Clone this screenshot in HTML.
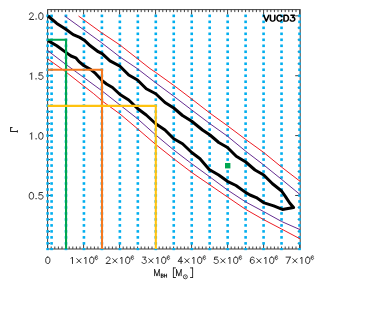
<!DOCTYPE html>
<html><head><meta charset="utf-8"><title>VUCD3</title>
<style>
html,body{margin:0;padding:0;background:#fff;}
body{width:380px;height:319px;position:relative;overflow:hidden;font-family:"Liberation Sans",sans-serif;}
svg{position:absolute;left:0;top:0;display:block;}
</style></head><body>
<svg width="380" height="319" viewBox="0 0 380 319"><rect x="47.60" y="9.60" width="252.60" height="239.40" fill="none" stroke="#404040" stroke-width="1"/><path d="M47.60 9.60v5M47.60 249.00v-5M51.20 9.60v2.5M51.20 249.00v-2.5M54.80 9.60v2.5M54.80 249.00v-2.5M58.40 9.60v2.5M58.40 249.00v-2.5M62.00 9.60v2.5M62.00 249.00v-2.5M65.60 9.60v2.5M65.60 249.00v-2.5M69.20 9.60v2.5M69.20 249.00v-2.5M72.80 9.60v2.5M72.80 249.00v-2.5M76.40 9.60v2.5M76.40 249.00v-2.5M80.00 9.60v2.5M80.00 249.00v-2.5M83.60 9.60v5M83.60 249.00v-5M87.20 9.60v2.5M87.20 249.00v-2.5M90.80 9.60v2.5M90.80 249.00v-2.5M94.40 9.60v2.5M94.40 249.00v-2.5M98.00 9.60v2.5M98.00 249.00v-2.5M101.60 9.60v2.5M101.60 249.00v-2.5M105.20 9.60v2.5M105.20 249.00v-2.5M108.80 9.60v2.5M108.80 249.00v-2.5M112.40 9.60v2.5M112.40 249.00v-2.5M116.00 9.60v2.5M116.00 249.00v-2.5M119.60 9.60v5M119.60 249.00v-5M123.20 9.60v2.5M123.20 249.00v-2.5M126.80 9.60v2.5M126.80 249.00v-2.5M130.40 9.60v2.5M130.40 249.00v-2.5M134.00 9.60v2.5M134.00 249.00v-2.5M137.60 9.60v2.5M137.60 249.00v-2.5M141.20 9.60v2.5M141.20 249.00v-2.5M144.80 9.60v2.5M144.80 249.00v-2.5M148.40 9.60v2.5M148.40 249.00v-2.5M152.00 9.60v2.5M152.00 249.00v-2.5M155.60 9.60v5M155.60 249.00v-5M159.20 9.60v2.5M159.20 249.00v-2.5M162.80 9.60v2.5M162.80 249.00v-2.5M166.40 9.60v2.5M166.40 249.00v-2.5M170.00 9.60v2.5M170.00 249.00v-2.5M173.60 9.60v2.5M173.60 249.00v-2.5M177.20 9.60v2.5M177.20 249.00v-2.5M180.80 9.60v2.5M180.80 249.00v-2.5M184.40 9.60v2.5M184.40 249.00v-2.5M188.00 9.60v2.5M188.00 249.00v-2.5M191.60 9.60v5M191.60 249.00v-5M195.20 9.60v2.5M195.20 249.00v-2.5M198.80 9.60v2.5M198.80 249.00v-2.5M202.40 9.60v2.5M202.40 249.00v-2.5M206.00 9.60v2.5M206.00 249.00v-2.5M209.60 9.60v2.5M209.60 249.00v-2.5M213.20 9.60v2.5M213.20 249.00v-2.5M216.80 9.60v2.5M216.80 249.00v-2.5M220.40 9.60v2.5M220.40 249.00v-2.5M224.00 9.60v2.5M224.00 249.00v-2.5M227.60 9.60v5M227.60 249.00v-5M231.20 9.60v2.5M231.20 249.00v-2.5M234.80 9.60v2.5M234.80 249.00v-2.5M238.40 9.60v2.5M238.40 249.00v-2.5M242.00 9.60v2.5M242.00 249.00v-2.5M245.60 9.60v2.5M245.60 249.00v-2.5M249.20 9.60v2.5M249.20 249.00v-2.5M252.80 9.60v2.5M252.80 249.00v-2.5M256.40 9.60v2.5M256.40 249.00v-2.5M260.00 9.60v2.5M260.00 249.00v-2.5M263.60 9.60v5M263.60 249.00v-5M267.20 9.60v2.5M267.20 249.00v-2.5M270.80 9.60v2.5M270.80 249.00v-2.5M274.40 9.60v2.5M274.40 249.00v-2.5M278.00 9.60v2.5M278.00 249.00v-2.5M281.60 9.60v2.5M281.60 249.00v-2.5M285.20 9.60v2.5M285.20 249.00v-2.5M288.80 9.60v2.5M288.80 249.00v-2.5M292.40 9.60v2.5M292.40 249.00v-2.5M296.00 9.60v2.5M296.00 249.00v-2.5M299.60 9.60v5M299.60 249.00v-5M47.60 243.37h2.5M300.20 243.37h-2.5M47.60 231.40h2.5M300.20 231.40h-2.5M47.60 219.42h2.5M300.20 219.42h-2.5M47.60 207.45h2.5M300.20 207.45h-2.5M47.60 195.47h5M300.20 195.47h-5M47.60 183.50h2.5M300.20 183.50h-2.5M47.60 171.53h2.5M300.20 171.53h-2.5M47.60 159.55h2.5M300.20 159.55h-2.5M47.60 147.58h2.5M300.20 147.58h-2.5M47.60 135.60h5M300.20 135.60h-5M47.60 123.62h2.5M300.20 123.62h-2.5M47.60 111.65h2.5M300.20 111.65h-2.5M47.60 99.67h2.5M300.20 99.67h-2.5M47.60 87.70h2.5M300.20 87.70h-2.5M47.60 75.72h5M300.20 75.72h-5M47.60 63.75h2.5M300.20 63.75h-2.5M47.60 51.78h2.5M300.20 51.78h-2.5M47.60 39.80h2.5M300.20 39.80h-2.5M47.60 27.83h2.5M300.20 27.83h-2.5M47.60 15.85h5M300.20 15.85h-5" stroke="#404040" stroke-width="1" fill="none"/><defs><clipPath id="dc"><rect x="45" y="9" width="256" height="241.3"/></clipPath></defs><g fill="#00AEEF" clip-path="url(#dc)"><rect x="46.30" y="248.06" width="2.6" height="2.6"/><rect x="46.30" y="242.07" width="2.6" height="2.6"/><rect x="46.30" y="236.09" width="2.6" height="2.6"/><rect x="46.30" y="230.10" width="2.6" height="2.6"/><rect x="46.30" y="224.11" width="2.6" height="2.6"/><rect x="46.30" y="218.12" width="2.6" height="2.6"/><rect x="46.30" y="212.14" width="2.6" height="2.6"/><rect x="46.30" y="206.15" width="2.6" height="2.6"/><rect x="46.30" y="200.16" width="2.6" height="2.6"/><rect x="46.30" y="194.17" width="2.6" height="2.6"/><rect x="46.30" y="188.19" width="2.6" height="2.6"/><rect x="46.30" y="182.20" width="2.6" height="2.6"/><rect x="46.30" y="176.21" width="2.6" height="2.6"/><rect x="46.30" y="170.22" width="2.6" height="2.6"/><rect x="46.30" y="164.24" width="2.6" height="2.6"/><rect x="46.30" y="158.25" width="2.6" height="2.6"/><rect x="46.30" y="152.26" width="2.6" height="2.6"/><rect x="46.30" y="146.28" width="2.6" height="2.6"/><rect x="46.30" y="140.29" width="2.6" height="2.6"/><rect x="46.30" y="134.30" width="2.6" height="2.6"/><rect x="46.30" y="128.31" width="2.6" height="2.6"/><rect x="46.30" y="122.32" width="2.6" height="2.6"/><rect x="46.30" y="116.34" width="2.6" height="2.6"/><rect x="46.30" y="110.35" width="2.6" height="2.6"/><rect x="46.30" y="104.36" width="2.6" height="2.6"/><rect x="46.30" y="98.37" width="2.6" height="2.6"/><rect x="46.30" y="92.39" width="2.6" height="2.6"/><rect x="46.30" y="86.40" width="2.6" height="2.6"/><rect x="46.30" y="80.41" width="2.6" height="2.6"/><rect x="46.30" y="74.42" width="2.6" height="2.6"/><rect x="46.30" y="68.44" width="2.6" height="2.6"/><rect x="46.30" y="62.45" width="2.6" height="2.6"/><rect x="46.30" y="56.46" width="2.6" height="2.6"/><rect x="46.30" y="50.47" width="2.6" height="2.6"/><rect x="46.30" y="44.49" width="2.6" height="2.6"/><rect x="46.30" y="38.50" width="2.6" height="2.6"/><rect x="46.30" y="32.51" width="2.6" height="2.6"/><rect x="46.30" y="26.52" width="2.6" height="2.6"/><rect x="46.30" y="20.54" width="2.6" height="2.6"/><rect x="46.30" y="14.55" width="2.6" height="2.6"/><rect x="50.30" y="248.06" width="2.6" height="2.6"/><rect x="50.30" y="242.07" width="2.6" height="2.6"/><rect x="50.30" y="236.09" width="2.6" height="2.6"/><rect x="50.30" y="230.10" width="2.6" height="2.6"/><rect x="50.30" y="224.11" width="2.6" height="2.6"/><rect x="50.30" y="218.12" width="2.6" height="2.6"/><rect x="50.30" y="212.14" width="2.6" height="2.6"/><rect x="50.30" y="206.15" width="2.6" height="2.6"/><rect x="50.30" y="200.16" width="2.6" height="2.6"/><rect x="50.30" y="194.17" width="2.6" height="2.6"/><rect x="50.30" y="188.19" width="2.6" height="2.6"/><rect x="50.30" y="182.20" width="2.6" height="2.6"/><rect x="50.30" y="176.21" width="2.6" height="2.6"/><rect x="50.30" y="170.22" width="2.6" height="2.6"/><rect x="50.30" y="164.24" width="2.6" height="2.6"/><rect x="50.30" y="158.25" width="2.6" height="2.6"/><rect x="50.30" y="152.26" width="2.6" height="2.6"/><rect x="50.30" y="146.28" width="2.6" height="2.6"/><rect x="50.30" y="140.29" width="2.6" height="2.6"/><rect x="50.30" y="134.30" width="2.6" height="2.6"/><rect x="50.30" y="128.31" width="2.6" height="2.6"/><rect x="50.30" y="122.32" width="2.6" height="2.6"/><rect x="50.30" y="116.34" width="2.6" height="2.6"/><rect x="50.30" y="110.35" width="2.6" height="2.6"/><rect x="50.30" y="104.36" width="2.6" height="2.6"/><rect x="50.30" y="98.37" width="2.6" height="2.6"/><rect x="50.30" y="92.39" width="2.6" height="2.6"/><rect x="50.30" y="86.40" width="2.6" height="2.6"/><rect x="50.30" y="80.41" width="2.6" height="2.6"/><rect x="50.30" y="74.42" width="2.6" height="2.6"/><rect x="50.30" y="68.44" width="2.6" height="2.6"/><rect x="50.30" y="62.45" width="2.6" height="2.6"/><rect x="50.30" y="56.46" width="2.6" height="2.6"/><rect x="50.30" y="50.47" width="2.6" height="2.6"/><rect x="50.30" y="44.49" width="2.6" height="2.6"/><rect x="50.30" y="38.50" width="2.6" height="2.6"/><rect x="50.30" y="32.51" width="2.6" height="2.6"/><rect x="50.30" y="26.52" width="2.6" height="2.6"/><rect x="50.30" y="20.54" width="2.6" height="2.6"/><rect x="50.30" y="14.55" width="2.6" height="2.6"/><rect x="64.67" y="248.06" width="2.6" height="2.6"/><rect x="64.67" y="242.07" width="2.6" height="2.6"/><rect x="64.67" y="236.09" width="2.6" height="2.6"/><rect x="64.67" y="230.10" width="2.6" height="2.6"/><rect x="64.67" y="224.11" width="2.6" height="2.6"/><rect x="64.67" y="218.12" width="2.6" height="2.6"/><rect x="64.67" y="212.14" width="2.6" height="2.6"/><rect x="64.67" y="206.15" width="2.6" height="2.6"/><rect x="64.67" y="200.16" width="2.6" height="2.6"/><rect x="64.67" y="194.17" width="2.6" height="2.6"/><rect x="64.67" y="188.19" width="2.6" height="2.6"/><rect x="64.67" y="182.20" width="2.6" height="2.6"/><rect x="64.67" y="176.21" width="2.6" height="2.6"/><rect x="64.67" y="170.22" width="2.6" height="2.6"/><rect x="64.67" y="164.24" width="2.6" height="2.6"/><rect x="64.67" y="158.25" width="2.6" height="2.6"/><rect x="64.67" y="152.26" width="2.6" height="2.6"/><rect x="64.67" y="146.28" width="2.6" height="2.6"/><rect x="64.67" y="140.29" width="2.6" height="2.6"/><rect x="64.67" y="134.30" width="2.6" height="2.6"/><rect x="64.67" y="128.31" width="2.6" height="2.6"/><rect x="64.67" y="122.32" width="2.6" height="2.6"/><rect x="64.67" y="116.34" width="2.6" height="2.6"/><rect x="64.67" y="110.35" width="2.6" height="2.6"/><rect x="64.67" y="104.36" width="2.6" height="2.6"/><rect x="64.67" y="98.37" width="2.6" height="2.6"/><rect x="64.67" y="92.39" width="2.6" height="2.6"/><rect x="64.67" y="86.40" width="2.6" height="2.6"/><rect x="64.67" y="80.41" width="2.6" height="2.6"/><rect x="64.67" y="74.42" width="2.6" height="2.6"/><rect x="64.67" y="68.44" width="2.6" height="2.6"/><rect x="64.67" y="62.45" width="2.6" height="2.6"/><rect x="64.67" y="56.46" width="2.6" height="2.6"/><rect x="64.67" y="50.47" width="2.6" height="2.6"/><rect x="64.67" y="44.49" width="2.6" height="2.6"/><rect x="64.67" y="38.50" width="2.6" height="2.6"/><rect x="64.67" y="32.51" width="2.6" height="2.6"/><rect x="64.67" y="26.52" width="2.6" height="2.6"/><rect x="64.67" y="20.54" width="2.6" height="2.6"/><rect x="64.67" y="14.55" width="2.6" height="2.6"/><rect x="82.63" y="248.06" width="2.6" height="2.6"/><rect x="82.63" y="242.07" width="2.6" height="2.6"/><rect x="82.63" y="236.09" width="2.6" height="2.6"/><rect x="82.63" y="230.10" width="2.6" height="2.6"/><rect x="82.63" y="224.11" width="2.6" height="2.6"/><rect x="82.63" y="218.12" width="2.6" height="2.6"/><rect x="82.63" y="212.14" width="2.6" height="2.6"/><rect x="82.63" y="206.15" width="2.6" height="2.6"/><rect x="82.63" y="200.16" width="2.6" height="2.6"/><rect x="82.63" y="194.17" width="2.6" height="2.6"/><rect x="82.63" y="188.19" width="2.6" height="2.6"/><rect x="82.63" y="182.20" width="2.6" height="2.6"/><rect x="82.63" y="176.21" width="2.6" height="2.6"/><rect x="82.63" y="170.22" width="2.6" height="2.6"/><rect x="82.63" y="164.24" width="2.6" height="2.6"/><rect x="82.63" y="158.25" width="2.6" height="2.6"/><rect x="82.63" y="152.26" width="2.6" height="2.6"/><rect x="82.63" y="146.28" width="2.6" height="2.6"/><rect x="82.63" y="140.29" width="2.6" height="2.6"/><rect x="82.63" y="134.30" width="2.6" height="2.6"/><rect x="82.63" y="128.31" width="2.6" height="2.6"/><rect x="82.63" y="122.32" width="2.6" height="2.6"/><rect x="82.63" y="116.34" width="2.6" height="2.6"/><rect x="82.63" y="110.35" width="2.6" height="2.6"/><rect x="82.63" y="104.36" width="2.6" height="2.6"/><rect x="82.63" y="98.37" width="2.6" height="2.6"/><rect x="82.63" y="92.39" width="2.6" height="2.6"/><rect x="82.63" y="86.40" width="2.6" height="2.6"/><rect x="82.63" y="80.41" width="2.6" height="2.6"/><rect x="82.63" y="74.42" width="2.6" height="2.6"/><rect x="82.63" y="68.44" width="2.6" height="2.6"/><rect x="82.63" y="62.45" width="2.6" height="2.6"/><rect x="82.63" y="56.46" width="2.6" height="2.6"/><rect x="82.63" y="50.47" width="2.6" height="2.6"/><rect x="82.63" y="44.49" width="2.6" height="2.6"/><rect x="82.63" y="38.50" width="2.6" height="2.6"/><rect x="82.63" y="32.51" width="2.6" height="2.6"/><rect x="82.63" y="26.52" width="2.6" height="2.6"/><rect x="82.63" y="20.54" width="2.6" height="2.6"/><rect x="82.63" y="14.55" width="2.6" height="2.6"/><rect x="100.59" y="248.06" width="2.6" height="2.6"/><rect x="100.59" y="242.07" width="2.6" height="2.6"/><rect x="100.59" y="236.09" width="2.6" height="2.6"/><rect x="100.59" y="230.10" width="2.6" height="2.6"/><rect x="100.59" y="224.11" width="2.6" height="2.6"/><rect x="100.59" y="218.12" width="2.6" height="2.6"/><rect x="100.59" y="212.14" width="2.6" height="2.6"/><rect x="100.59" y="206.15" width="2.6" height="2.6"/><rect x="100.59" y="200.16" width="2.6" height="2.6"/><rect x="100.59" y="194.17" width="2.6" height="2.6"/><rect x="100.59" y="188.19" width="2.6" height="2.6"/><rect x="100.59" y="182.20" width="2.6" height="2.6"/><rect x="100.59" y="176.21" width="2.6" height="2.6"/><rect x="100.59" y="170.22" width="2.6" height="2.6"/><rect x="100.59" y="164.24" width="2.6" height="2.6"/><rect x="100.59" y="158.25" width="2.6" height="2.6"/><rect x="100.59" y="152.26" width="2.6" height="2.6"/><rect x="100.59" y="146.28" width="2.6" height="2.6"/><rect x="100.59" y="140.29" width="2.6" height="2.6"/><rect x="100.59" y="134.30" width="2.6" height="2.6"/><rect x="100.59" y="128.31" width="2.6" height="2.6"/><rect x="100.59" y="122.32" width="2.6" height="2.6"/><rect x="100.59" y="116.34" width="2.6" height="2.6"/><rect x="100.59" y="110.35" width="2.6" height="2.6"/><rect x="100.59" y="104.36" width="2.6" height="2.6"/><rect x="100.59" y="98.37" width="2.6" height="2.6"/><rect x="100.59" y="92.39" width="2.6" height="2.6"/><rect x="100.59" y="86.40" width="2.6" height="2.6"/><rect x="100.59" y="80.41" width="2.6" height="2.6"/><rect x="100.59" y="74.42" width="2.6" height="2.6"/><rect x="100.59" y="68.44" width="2.6" height="2.6"/><rect x="100.59" y="62.45" width="2.6" height="2.6"/><rect x="100.59" y="56.46" width="2.6" height="2.6"/><rect x="100.59" y="50.47" width="2.6" height="2.6"/><rect x="100.59" y="44.49" width="2.6" height="2.6"/><rect x="100.59" y="38.50" width="2.6" height="2.6"/><rect x="100.59" y="32.51" width="2.6" height="2.6"/><rect x="100.59" y="26.52" width="2.6" height="2.6"/><rect x="100.59" y="20.54" width="2.6" height="2.6"/><rect x="100.59" y="14.55" width="2.6" height="2.6"/><rect x="118.56" y="248.06" width="2.6" height="2.6"/><rect x="118.56" y="242.07" width="2.6" height="2.6"/><rect x="118.56" y="236.09" width="2.6" height="2.6"/><rect x="118.56" y="230.10" width="2.6" height="2.6"/><rect x="118.56" y="224.11" width="2.6" height="2.6"/><rect x="118.56" y="218.12" width="2.6" height="2.6"/><rect x="118.56" y="212.14" width="2.6" height="2.6"/><rect x="118.56" y="206.15" width="2.6" height="2.6"/><rect x="118.56" y="200.16" width="2.6" height="2.6"/><rect x="118.56" y="194.17" width="2.6" height="2.6"/><rect x="118.56" y="188.19" width="2.6" height="2.6"/><rect x="118.56" y="182.20" width="2.6" height="2.6"/><rect x="118.56" y="176.21" width="2.6" height="2.6"/><rect x="118.56" y="170.22" width="2.6" height="2.6"/><rect x="118.56" y="164.24" width="2.6" height="2.6"/><rect x="118.56" y="158.25" width="2.6" height="2.6"/><rect x="118.56" y="152.26" width="2.6" height="2.6"/><rect x="118.56" y="146.28" width="2.6" height="2.6"/><rect x="118.56" y="140.29" width="2.6" height="2.6"/><rect x="118.56" y="134.30" width="2.6" height="2.6"/><rect x="118.56" y="128.31" width="2.6" height="2.6"/><rect x="118.56" y="122.32" width="2.6" height="2.6"/><rect x="118.56" y="116.34" width="2.6" height="2.6"/><rect x="118.56" y="110.35" width="2.6" height="2.6"/><rect x="118.56" y="104.36" width="2.6" height="2.6"/><rect x="118.56" y="98.37" width="2.6" height="2.6"/><rect x="118.56" y="92.39" width="2.6" height="2.6"/><rect x="118.56" y="86.40" width="2.6" height="2.6"/><rect x="118.56" y="80.41" width="2.6" height="2.6"/><rect x="118.56" y="74.42" width="2.6" height="2.6"/><rect x="118.56" y="68.44" width="2.6" height="2.6"/><rect x="118.56" y="62.45" width="2.6" height="2.6"/><rect x="118.56" y="56.46" width="2.6" height="2.6"/><rect x="118.56" y="50.47" width="2.6" height="2.6"/><rect x="118.56" y="44.49" width="2.6" height="2.6"/><rect x="118.56" y="38.50" width="2.6" height="2.6"/><rect x="118.56" y="32.51" width="2.6" height="2.6"/><rect x="118.56" y="26.52" width="2.6" height="2.6"/><rect x="118.56" y="20.54" width="2.6" height="2.6"/><rect x="118.56" y="14.55" width="2.6" height="2.6"/><rect x="136.52" y="248.06" width="2.6" height="2.6"/><rect x="136.52" y="242.07" width="2.6" height="2.6"/><rect x="136.52" y="236.09" width="2.6" height="2.6"/><rect x="136.52" y="230.10" width="2.6" height="2.6"/><rect x="136.52" y="224.11" width="2.6" height="2.6"/><rect x="136.52" y="218.12" width="2.6" height="2.6"/><rect x="136.52" y="212.14" width="2.6" height="2.6"/><rect x="136.52" y="206.15" width="2.6" height="2.6"/><rect x="136.52" y="200.16" width="2.6" height="2.6"/><rect x="136.52" y="194.17" width="2.6" height="2.6"/><rect x="136.52" y="188.19" width="2.6" height="2.6"/><rect x="136.52" y="182.20" width="2.6" height="2.6"/><rect x="136.52" y="176.21" width="2.6" height="2.6"/><rect x="136.52" y="170.22" width="2.6" height="2.6"/><rect x="136.52" y="164.24" width="2.6" height="2.6"/><rect x="136.52" y="158.25" width="2.6" height="2.6"/><rect x="136.52" y="152.26" width="2.6" height="2.6"/><rect x="136.52" y="146.28" width="2.6" height="2.6"/><rect x="136.52" y="140.29" width="2.6" height="2.6"/><rect x="136.52" y="134.30" width="2.6" height="2.6"/><rect x="136.52" y="128.31" width="2.6" height="2.6"/><rect x="136.52" y="122.32" width="2.6" height="2.6"/><rect x="136.52" y="116.34" width="2.6" height="2.6"/><rect x="136.52" y="110.35" width="2.6" height="2.6"/><rect x="136.52" y="104.36" width="2.6" height="2.6"/><rect x="136.52" y="98.37" width="2.6" height="2.6"/><rect x="136.52" y="92.39" width="2.6" height="2.6"/><rect x="136.52" y="86.40" width="2.6" height="2.6"/><rect x="136.52" y="80.41" width="2.6" height="2.6"/><rect x="136.52" y="74.42" width="2.6" height="2.6"/><rect x="136.52" y="68.44" width="2.6" height="2.6"/><rect x="136.52" y="62.45" width="2.6" height="2.6"/><rect x="136.52" y="56.46" width="2.6" height="2.6"/><rect x="136.52" y="50.47" width="2.6" height="2.6"/><rect x="136.52" y="44.49" width="2.6" height="2.6"/><rect x="136.52" y="38.50" width="2.6" height="2.6"/><rect x="136.52" y="32.51" width="2.6" height="2.6"/><rect x="136.52" y="26.52" width="2.6" height="2.6"/><rect x="136.52" y="20.54" width="2.6" height="2.6"/><rect x="136.52" y="14.55" width="2.6" height="2.6"/><rect x="154.49" y="248.06" width="2.6" height="2.6"/><rect x="154.49" y="242.07" width="2.6" height="2.6"/><rect x="154.49" y="236.09" width="2.6" height="2.6"/><rect x="154.49" y="230.10" width="2.6" height="2.6"/><rect x="154.49" y="224.11" width="2.6" height="2.6"/><rect x="154.49" y="218.12" width="2.6" height="2.6"/><rect x="154.49" y="212.14" width="2.6" height="2.6"/><rect x="154.49" y="206.15" width="2.6" height="2.6"/><rect x="154.49" y="200.16" width="2.6" height="2.6"/><rect x="154.49" y="194.17" width="2.6" height="2.6"/><rect x="154.49" y="188.19" width="2.6" height="2.6"/><rect x="154.49" y="182.20" width="2.6" height="2.6"/><rect x="154.49" y="176.21" width="2.6" height="2.6"/><rect x="154.49" y="170.22" width="2.6" height="2.6"/><rect x="154.49" y="164.24" width="2.6" height="2.6"/><rect x="154.49" y="158.25" width="2.6" height="2.6"/><rect x="154.49" y="152.26" width="2.6" height="2.6"/><rect x="154.49" y="146.28" width="2.6" height="2.6"/><rect x="154.49" y="140.29" width="2.6" height="2.6"/><rect x="154.49" y="134.30" width="2.6" height="2.6"/><rect x="154.49" y="128.31" width="2.6" height="2.6"/><rect x="154.49" y="122.32" width="2.6" height="2.6"/><rect x="154.49" y="116.34" width="2.6" height="2.6"/><rect x="154.49" y="110.35" width="2.6" height="2.6"/><rect x="154.49" y="104.36" width="2.6" height="2.6"/><rect x="154.49" y="98.37" width="2.6" height="2.6"/><rect x="154.49" y="92.39" width="2.6" height="2.6"/><rect x="154.49" y="86.40" width="2.6" height="2.6"/><rect x="154.49" y="80.41" width="2.6" height="2.6"/><rect x="154.49" y="74.42" width="2.6" height="2.6"/><rect x="154.49" y="68.44" width="2.6" height="2.6"/><rect x="154.49" y="62.45" width="2.6" height="2.6"/><rect x="154.49" y="56.46" width="2.6" height="2.6"/><rect x="154.49" y="50.47" width="2.6" height="2.6"/><rect x="154.49" y="44.49" width="2.6" height="2.6"/><rect x="154.49" y="38.50" width="2.6" height="2.6"/><rect x="154.49" y="32.51" width="2.6" height="2.6"/><rect x="154.49" y="26.52" width="2.6" height="2.6"/><rect x="154.49" y="20.54" width="2.6" height="2.6"/><rect x="154.49" y="14.55" width="2.6" height="2.6"/><rect x="172.45" y="248.06" width="2.6" height="2.6"/><rect x="172.45" y="242.07" width="2.6" height="2.6"/><rect x="172.45" y="236.09" width="2.6" height="2.6"/><rect x="172.45" y="230.10" width="2.6" height="2.6"/><rect x="172.45" y="224.11" width="2.6" height="2.6"/><rect x="172.45" y="218.12" width="2.6" height="2.6"/><rect x="172.45" y="212.14" width="2.6" height="2.6"/><rect x="172.45" y="206.15" width="2.6" height="2.6"/><rect x="172.45" y="200.16" width="2.6" height="2.6"/><rect x="172.45" y="194.17" width="2.6" height="2.6"/><rect x="172.45" y="188.19" width="2.6" height="2.6"/><rect x="172.45" y="182.20" width="2.6" height="2.6"/><rect x="172.45" y="176.21" width="2.6" height="2.6"/><rect x="172.45" y="170.22" width="2.6" height="2.6"/><rect x="172.45" y="164.24" width="2.6" height="2.6"/><rect x="172.45" y="158.25" width="2.6" height="2.6"/><rect x="172.45" y="152.26" width="2.6" height="2.6"/><rect x="172.45" y="146.28" width="2.6" height="2.6"/><rect x="172.45" y="140.29" width="2.6" height="2.6"/><rect x="172.45" y="134.30" width="2.6" height="2.6"/><rect x="172.45" y="128.31" width="2.6" height="2.6"/><rect x="172.45" y="122.32" width="2.6" height="2.6"/><rect x="172.45" y="116.34" width="2.6" height="2.6"/><rect x="172.45" y="110.35" width="2.6" height="2.6"/><rect x="172.45" y="104.36" width="2.6" height="2.6"/><rect x="172.45" y="98.37" width="2.6" height="2.6"/><rect x="172.45" y="92.39" width="2.6" height="2.6"/><rect x="172.45" y="86.40" width="2.6" height="2.6"/><rect x="172.45" y="80.41" width="2.6" height="2.6"/><rect x="172.45" y="74.42" width="2.6" height="2.6"/><rect x="172.45" y="68.44" width="2.6" height="2.6"/><rect x="172.45" y="62.45" width="2.6" height="2.6"/><rect x="172.45" y="56.46" width="2.6" height="2.6"/><rect x="172.45" y="50.47" width="2.6" height="2.6"/><rect x="172.45" y="44.49" width="2.6" height="2.6"/><rect x="172.45" y="38.50" width="2.6" height="2.6"/><rect x="172.45" y="32.51" width="2.6" height="2.6"/><rect x="172.45" y="26.52" width="2.6" height="2.6"/><rect x="172.45" y="20.54" width="2.6" height="2.6"/><rect x="172.45" y="14.55" width="2.6" height="2.6"/><rect x="190.42" y="248.06" width="2.6" height="2.6"/><rect x="190.42" y="242.07" width="2.6" height="2.6"/><rect x="190.42" y="236.09" width="2.6" height="2.6"/><rect x="190.42" y="230.10" width="2.6" height="2.6"/><rect x="190.42" y="224.11" width="2.6" height="2.6"/><rect x="190.42" y="218.12" width="2.6" height="2.6"/><rect x="190.42" y="212.14" width="2.6" height="2.6"/><rect x="190.42" y="206.15" width="2.6" height="2.6"/><rect x="190.42" y="200.16" width="2.6" height="2.6"/><rect x="190.42" y="194.17" width="2.6" height="2.6"/><rect x="190.42" y="188.19" width="2.6" height="2.6"/><rect x="190.42" y="182.20" width="2.6" height="2.6"/><rect x="190.42" y="176.21" width="2.6" height="2.6"/><rect x="190.42" y="170.22" width="2.6" height="2.6"/><rect x="190.42" y="164.24" width="2.6" height="2.6"/><rect x="190.42" y="158.25" width="2.6" height="2.6"/><rect x="190.42" y="152.26" width="2.6" height="2.6"/><rect x="190.42" y="146.28" width="2.6" height="2.6"/><rect x="190.42" y="140.29" width="2.6" height="2.6"/><rect x="190.42" y="134.30" width="2.6" height="2.6"/><rect x="190.42" y="128.31" width="2.6" height="2.6"/><rect x="190.42" y="122.32" width="2.6" height="2.6"/><rect x="190.42" y="116.34" width="2.6" height="2.6"/><rect x="190.42" y="110.35" width="2.6" height="2.6"/><rect x="190.42" y="104.36" width="2.6" height="2.6"/><rect x="190.42" y="98.37" width="2.6" height="2.6"/><rect x="190.42" y="92.39" width="2.6" height="2.6"/><rect x="190.42" y="86.40" width="2.6" height="2.6"/><rect x="190.42" y="80.41" width="2.6" height="2.6"/><rect x="190.42" y="74.42" width="2.6" height="2.6"/><rect x="190.42" y="68.44" width="2.6" height="2.6"/><rect x="190.42" y="62.45" width="2.6" height="2.6"/><rect x="190.42" y="56.46" width="2.6" height="2.6"/><rect x="190.42" y="50.47" width="2.6" height="2.6"/><rect x="190.42" y="44.49" width="2.6" height="2.6"/><rect x="190.42" y="38.50" width="2.6" height="2.6"/><rect x="190.42" y="32.51" width="2.6" height="2.6"/><rect x="190.42" y="26.52" width="2.6" height="2.6"/><rect x="190.42" y="20.54" width="2.6" height="2.6"/><rect x="190.42" y="14.55" width="2.6" height="2.6"/><rect x="208.38" y="248.06" width="2.6" height="2.6"/><rect x="208.38" y="242.07" width="2.6" height="2.6"/><rect x="208.38" y="236.09" width="2.6" height="2.6"/><rect x="208.38" y="230.10" width="2.6" height="2.6"/><rect x="208.38" y="224.11" width="2.6" height="2.6"/><rect x="208.38" y="218.12" width="2.6" height="2.6"/><rect x="208.38" y="212.14" width="2.6" height="2.6"/><rect x="208.38" y="206.15" width="2.6" height="2.6"/><rect x="208.38" y="200.16" width="2.6" height="2.6"/><rect x="208.38" y="194.17" width="2.6" height="2.6"/><rect x="208.38" y="188.19" width="2.6" height="2.6"/><rect x="208.38" y="182.20" width="2.6" height="2.6"/><rect x="208.38" y="176.21" width="2.6" height="2.6"/><rect x="208.38" y="170.22" width="2.6" height="2.6"/><rect x="208.38" y="164.24" width="2.6" height="2.6"/><rect x="208.38" y="158.25" width="2.6" height="2.6"/><rect x="208.38" y="152.26" width="2.6" height="2.6"/><rect x="208.38" y="146.28" width="2.6" height="2.6"/><rect x="208.38" y="140.29" width="2.6" height="2.6"/><rect x="208.38" y="134.30" width="2.6" height="2.6"/><rect x="208.38" y="128.31" width="2.6" height="2.6"/><rect x="208.38" y="122.32" width="2.6" height="2.6"/><rect x="208.38" y="116.34" width="2.6" height="2.6"/><rect x="208.38" y="110.35" width="2.6" height="2.6"/><rect x="208.38" y="104.36" width="2.6" height="2.6"/><rect x="208.38" y="98.37" width="2.6" height="2.6"/><rect x="208.38" y="92.39" width="2.6" height="2.6"/><rect x="208.38" y="86.40" width="2.6" height="2.6"/><rect x="208.38" y="80.41" width="2.6" height="2.6"/><rect x="208.38" y="74.42" width="2.6" height="2.6"/><rect x="208.38" y="68.44" width="2.6" height="2.6"/><rect x="208.38" y="62.45" width="2.6" height="2.6"/><rect x="208.38" y="56.46" width="2.6" height="2.6"/><rect x="208.38" y="50.47" width="2.6" height="2.6"/><rect x="208.38" y="44.49" width="2.6" height="2.6"/><rect x="208.38" y="38.50" width="2.6" height="2.6"/><rect x="208.38" y="32.51" width="2.6" height="2.6"/><rect x="208.38" y="26.52" width="2.6" height="2.6"/><rect x="208.38" y="20.54" width="2.6" height="2.6"/><rect x="208.38" y="14.55" width="2.6" height="2.6"/><rect x="226.35" y="248.06" width="2.6" height="2.6"/><rect x="226.35" y="242.07" width="2.6" height="2.6"/><rect x="226.35" y="236.09" width="2.6" height="2.6"/><rect x="226.35" y="230.10" width="2.6" height="2.6"/><rect x="226.35" y="224.11" width="2.6" height="2.6"/><rect x="226.35" y="218.12" width="2.6" height="2.6"/><rect x="226.35" y="212.14" width="2.6" height="2.6"/><rect x="226.35" y="206.15" width="2.6" height="2.6"/><rect x="226.35" y="200.16" width="2.6" height="2.6"/><rect x="226.35" y="194.17" width="2.6" height="2.6"/><rect x="226.35" y="188.19" width="2.6" height="2.6"/><rect x="226.35" y="182.20" width="2.6" height="2.6"/><rect x="226.35" y="176.21" width="2.6" height="2.6"/><rect x="226.35" y="170.22" width="2.6" height="2.6"/><rect x="226.35" y="164.24" width="2.6" height="2.6"/><rect x="226.35" y="158.25" width="2.6" height="2.6"/><rect x="226.35" y="152.26" width="2.6" height="2.6"/><rect x="226.35" y="146.28" width="2.6" height="2.6"/><rect x="226.35" y="140.29" width="2.6" height="2.6"/><rect x="226.35" y="134.30" width="2.6" height="2.6"/><rect x="226.35" y="128.31" width="2.6" height="2.6"/><rect x="226.35" y="122.32" width="2.6" height="2.6"/><rect x="226.35" y="116.34" width="2.6" height="2.6"/><rect x="226.35" y="110.35" width="2.6" height="2.6"/><rect x="226.35" y="104.36" width="2.6" height="2.6"/><rect x="226.35" y="98.37" width="2.6" height="2.6"/><rect x="226.35" y="92.39" width="2.6" height="2.6"/><rect x="226.35" y="86.40" width="2.6" height="2.6"/><rect x="226.35" y="80.41" width="2.6" height="2.6"/><rect x="226.35" y="74.42" width="2.6" height="2.6"/><rect x="226.35" y="68.44" width="2.6" height="2.6"/><rect x="226.35" y="62.45" width="2.6" height="2.6"/><rect x="226.35" y="56.46" width="2.6" height="2.6"/><rect x="226.35" y="50.47" width="2.6" height="2.6"/><rect x="226.35" y="44.49" width="2.6" height="2.6"/><rect x="226.35" y="38.50" width="2.6" height="2.6"/><rect x="226.35" y="32.51" width="2.6" height="2.6"/><rect x="226.35" y="26.52" width="2.6" height="2.6"/><rect x="226.35" y="20.54" width="2.6" height="2.6"/><rect x="226.35" y="14.55" width="2.6" height="2.6"/><rect x="244.31" y="248.06" width="2.6" height="2.6"/><rect x="244.31" y="242.07" width="2.6" height="2.6"/><rect x="244.31" y="236.09" width="2.6" height="2.6"/><rect x="244.31" y="230.10" width="2.6" height="2.6"/><rect x="244.31" y="224.11" width="2.6" height="2.6"/><rect x="244.31" y="218.12" width="2.6" height="2.6"/><rect x="244.31" y="212.14" width="2.6" height="2.6"/><rect x="244.31" y="206.15" width="2.6" height="2.6"/><rect x="244.31" y="200.16" width="2.6" height="2.6"/><rect x="244.31" y="194.17" width="2.6" height="2.6"/><rect x="244.31" y="188.19" width="2.6" height="2.6"/><rect x="244.31" y="182.20" width="2.6" height="2.6"/><rect x="244.31" y="176.21" width="2.6" height="2.6"/><rect x="244.31" y="170.22" width="2.6" height="2.6"/><rect x="244.31" y="164.24" width="2.6" height="2.6"/><rect x="244.31" y="158.25" width="2.6" height="2.6"/><rect x="244.31" y="152.26" width="2.6" height="2.6"/><rect x="244.31" y="146.28" width="2.6" height="2.6"/><rect x="244.31" y="140.29" width="2.6" height="2.6"/><rect x="244.31" y="134.30" width="2.6" height="2.6"/><rect x="244.31" y="128.31" width="2.6" height="2.6"/><rect x="244.31" y="122.32" width="2.6" height="2.6"/><rect x="244.31" y="116.34" width="2.6" height="2.6"/><rect x="244.31" y="110.35" width="2.6" height="2.6"/><rect x="244.31" y="104.36" width="2.6" height="2.6"/><rect x="244.31" y="98.37" width="2.6" height="2.6"/><rect x="244.31" y="92.39" width="2.6" height="2.6"/><rect x="244.31" y="86.40" width="2.6" height="2.6"/><rect x="244.31" y="80.41" width="2.6" height="2.6"/><rect x="244.31" y="74.42" width="2.6" height="2.6"/><rect x="244.31" y="68.44" width="2.6" height="2.6"/><rect x="244.31" y="62.45" width="2.6" height="2.6"/><rect x="244.31" y="56.46" width="2.6" height="2.6"/><rect x="244.31" y="50.47" width="2.6" height="2.6"/><rect x="244.31" y="44.49" width="2.6" height="2.6"/><rect x="244.31" y="38.50" width="2.6" height="2.6"/><rect x="244.31" y="32.51" width="2.6" height="2.6"/><rect x="244.31" y="26.52" width="2.6" height="2.6"/><rect x="244.31" y="20.54" width="2.6" height="2.6"/><rect x="244.31" y="14.55" width="2.6" height="2.6"/><rect x="262.28" y="248.06" width="2.6" height="2.6"/><rect x="262.28" y="242.07" width="2.6" height="2.6"/><rect x="262.28" y="236.09" width="2.6" height="2.6"/><rect x="262.28" y="230.10" width="2.6" height="2.6"/><rect x="262.28" y="224.11" width="2.6" height="2.6"/><rect x="262.28" y="218.12" width="2.6" height="2.6"/><rect x="262.28" y="212.14" width="2.6" height="2.6"/><rect x="262.28" y="206.15" width="2.6" height="2.6"/><rect x="262.28" y="200.16" width="2.6" height="2.6"/><rect x="262.28" y="194.17" width="2.6" height="2.6"/><rect x="262.28" y="188.19" width="2.6" height="2.6"/><rect x="262.28" y="182.20" width="2.6" height="2.6"/><rect x="262.28" y="176.21" width="2.6" height="2.6"/><rect x="262.28" y="170.22" width="2.6" height="2.6"/><rect x="262.28" y="164.24" width="2.6" height="2.6"/><rect x="262.28" y="158.25" width="2.6" height="2.6"/><rect x="262.28" y="152.26" width="2.6" height="2.6"/><rect x="262.28" y="146.28" width="2.6" height="2.6"/><rect x="262.28" y="140.29" width="2.6" height="2.6"/><rect x="262.28" y="134.30" width="2.6" height="2.6"/><rect x="262.28" y="128.31" width="2.6" height="2.6"/><rect x="262.28" y="122.32" width="2.6" height="2.6"/><rect x="262.28" y="116.34" width="2.6" height="2.6"/><rect x="262.28" y="110.35" width="2.6" height="2.6"/><rect x="262.28" y="104.36" width="2.6" height="2.6"/><rect x="262.28" y="98.37" width="2.6" height="2.6"/><rect x="262.28" y="92.39" width="2.6" height="2.6"/><rect x="262.28" y="86.40" width="2.6" height="2.6"/><rect x="262.28" y="80.41" width="2.6" height="2.6"/><rect x="262.28" y="74.42" width="2.6" height="2.6"/><rect x="262.28" y="68.44" width="2.6" height="2.6"/><rect x="262.28" y="62.45" width="2.6" height="2.6"/><rect x="262.28" y="56.46" width="2.6" height="2.6"/><rect x="262.28" y="50.47" width="2.6" height="2.6"/><rect x="262.28" y="44.49" width="2.6" height="2.6"/><rect x="262.28" y="38.50" width="2.6" height="2.6"/><rect x="262.28" y="32.51" width="2.6" height="2.6"/><rect x="262.28" y="26.52" width="2.6" height="2.6"/><rect x="262.28" y="20.54" width="2.6" height="2.6"/><rect x="262.28" y="14.55" width="2.6" height="2.6"/><rect x="280.24" y="248.06" width="2.6" height="2.6"/><rect x="280.24" y="242.07" width="2.6" height="2.6"/><rect x="280.24" y="236.09" width="2.6" height="2.6"/><rect x="280.24" y="230.10" width="2.6" height="2.6"/><rect x="280.24" y="224.11" width="2.6" height="2.6"/><rect x="280.24" y="218.12" width="2.6" height="2.6"/><rect x="280.24" y="212.14" width="2.6" height="2.6"/><rect x="280.24" y="206.15" width="2.6" height="2.6"/><rect x="280.24" y="200.16" width="2.6" height="2.6"/><rect x="280.24" y="194.17" width="2.6" height="2.6"/><rect x="280.24" y="188.19" width="2.6" height="2.6"/><rect x="280.24" y="182.20" width="2.6" height="2.6"/><rect x="280.24" y="176.21" width="2.6" height="2.6"/><rect x="280.24" y="170.22" width="2.6" height="2.6"/><rect x="280.24" y="164.24" width="2.6" height="2.6"/><rect x="280.24" y="158.25" width="2.6" height="2.6"/><rect x="280.24" y="152.26" width="2.6" height="2.6"/><rect x="280.24" y="146.28" width="2.6" height="2.6"/><rect x="280.24" y="140.29" width="2.6" height="2.6"/><rect x="280.24" y="134.30" width="2.6" height="2.6"/><rect x="280.24" y="128.31" width="2.6" height="2.6"/><rect x="280.24" y="122.32" width="2.6" height="2.6"/><rect x="280.24" y="116.34" width="2.6" height="2.6"/><rect x="280.24" y="110.35" width="2.6" height="2.6"/><rect x="280.24" y="104.36" width="2.6" height="2.6"/><rect x="280.24" y="98.37" width="2.6" height="2.6"/><rect x="280.24" y="92.39" width="2.6" height="2.6"/><rect x="280.24" y="86.40" width="2.6" height="2.6"/><rect x="280.24" y="80.41" width="2.6" height="2.6"/><rect x="280.24" y="74.42" width="2.6" height="2.6"/><rect x="280.24" y="68.44" width="2.6" height="2.6"/><rect x="280.24" y="62.45" width="2.6" height="2.6"/><rect x="280.24" y="56.46" width="2.6" height="2.6"/><rect x="280.24" y="50.47" width="2.6" height="2.6"/><rect x="280.24" y="44.49" width="2.6" height="2.6"/><rect x="280.24" y="38.50" width="2.6" height="2.6"/><rect x="280.24" y="32.51" width="2.6" height="2.6"/><rect x="280.24" y="26.52" width="2.6" height="2.6"/><rect x="280.24" y="20.54" width="2.6" height="2.6"/><rect x="280.24" y="14.55" width="2.6" height="2.6"/><rect x="298.21" y="248.06" width="2.6" height="2.6"/><rect x="298.21" y="242.07" width="2.6" height="2.6"/><rect x="298.21" y="236.09" width="2.6" height="2.6"/><rect x="298.21" y="230.10" width="2.6" height="2.6"/><rect x="298.21" y="224.11" width="2.6" height="2.6"/><rect x="298.21" y="218.12" width="2.6" height="2.6"/><rect x="298.21" y="212.14" width="2.6" height="2.6"/><rect x="298.21" y="206.15" width="2.6" height="2.6"/><rect x="298.21" y="200.16" width="2.6" height="2.6"/><rect x="298.21" y="194.17" width="2.6" height="2.6"/><rect x="298.21" y="188.19" width="2.6" height="2.6"/><rect x="298.21" y="182.20" width="2.6" height="2.6"/><rect x="298.21" y="176.21" width="2.6" height="2.6"/><rect x="298.21" y="170.22" width="2.6" height="2.6"/><rect x="298.21" y="164.24" width="2.6" height="2.6"/><rect x="298.21" y="158.25" width="2.6" height="2.6"/><rect x="298.21" y="152.26" width="2.6" height="2.6"/><rect x="298.21" y="146.28" width="2.6" height="2.6"/><rect x="298.21" y="140.29" width="2.6" height="2.6"/><rect x="298.21" y="134.30" width="2.6" height="2.6"/><rect x="298.21" y="128.31" width="2.6" height="2.6"/><rect x="298.21" y="122.32" width="2.6" height="2.6"/><rect x="298.21" y="116.34" width="2.6" height="2.6"/><rect x="298.21" y="110.35" width="2.6" height="2.6"/><rect x="298.21" y="104.36" width="2.6" height="2.6"/><rect x="298.21" y="98.37" width="2.6" height="2.6"/><rect x="298.21" y="92.39" width="2.6" height="2.6"/><rect x="298.21" y="86.40" width="2.6" height="2.6"/><rect x="298.21" y="80.41" width="2.6" height="2.6"/><rect x="298.21" y="74.42" width="2.6" height="2.6"/><rect x="298.21" y="68.44" width="2.6" height="2.6"/><rect x="298.21" y="62.45" width="2.6" height="2.6"/><rect x="298.21" y="56.46" width="2.6" height="2.6"/><rect x="298.21" y="50.47" width="2.6" height="2.6"/><rect x="298.21" y="44.49" width="2.6" height="2.6"/><rect x="298.21" y="38.50" width="2.6" height="2.6"/><rect x="298.21" y="32.51" width="2.6" height="2.6"/><rect x="298.21" y="26.52" width="2.6" height="2.6"/><rect x="298.21" y="20.54" width="2.6" height="2.6"/><rect x="298.21" y="14.55" width="2.6" height="2.6"/></g><polyline points="64.70,16.00 83.75,29.80 101.25,42.50 120.00,57.00 137.50,68.75 155.90,83.00 173.70,96.20 191.75,110.00 210.00,123.75 227.50,136.25 245.75,151.25 263.75,165.00 281.75,179.50 300.00,194.50" fill="none" stroke="#662D91" stroke-width="1.0" stroke-linejoin="round"/><polyline points="47.50,50.50 65.00,63.75 83.75,77.50 102.50,91.25 120.00,105.00 137.50,118.75 155.75,135.00 173.75,150.00 191.75,163.75 210.00,177.00 227.50,190.00 245.75,202.00 263.50,211.50 281.60,221.50 300.00,229.60" fill="none" stroke="#662D91" stroke-width="1.0" stroke-linejoin="round"/><polyline points="78.50,16.00 101.25,32.50 120.00,45.00 137.50,58.75 150.00,68.60 155.75,72.50 173.70,85.30 191.75,99.00 210.00,113.20 227.50,125.80 245.75,139.50 263.75,152.50 281.75,167.25 300.00,181.25" fill="none" stroke="#ED1C24" stroke-width="1.0" stroke-linejoin="round"/><polyline points="47.50,58.75 65.00,71.25 83.75,86.00 93.75,93.75 102.50,101.25 120.00,114.00 137.50,128.75 155.75,144.50 173.75,158.75 191.75,172.50 210.00,185.00 227.50,197.00 245.50,209.30 263.40,219.50 281.50,229.00 300.00,238.80" fill="none" stroke="#ED1C24" stroke-width="1.0" stroke-linejoin="round"/><polyline points="48.00,16.00 56.80,23.40 65.50,29.00 73.20,34.60 79.70,37.40 84.30,40.20 90.30,45.80 98.20,51.70 102.10,53.70 110.00,60.90 120.00,66.25 128.75,75.00 137.50,80.00 146.25,88.75 155.75,93.75 165.00,102.50 173.75,108.00 182.50,115.50 191.75,121.25 202.50,130.00 210.00,135.00 218.75,142.50 227.50,147.50 236.25,156.25 245.75,162.00 255.00,170.00 263.75,175.00 272.50,183.75 281.60,191.00 285.50,196.60 289.70,203.00 293.60,207.50 282.40,209.40 273.70,205.90 264.20,202.90 256.30,197.60 250.00,195.00 245.50,192.40 236.00,185.50 227.40,181.30 218.70,175.00 209.20,169.50 200.00,158.75 191.75,152.50 182.50,143.75 173.75,138.75 165.00,130.00 155.75,123.75 146.25,115.00 137.50,108.50 128.75,100.00 120.00,94.50 112.50,87.50 106.50,84.00 101.90,80.30 95.50,73.40 90.80,69.60 83.70,65.50 79.00,61.60 75.80,57.80 71.00,56.00 65.50,52.10 56.80,45.70 48.00,40.60" fill="none" stroke="#000" stroke-width="3" stroke-linejoin="round"/><polyline points="47.60,39.80 66.05,39.80 66.05,249.00" fill="none" stroke="#00A651" stroke-width="2.1" stroke-linejoin="miter"/><polyline points="47.60,69.75 102.00,69.75 102.00,249.00" fill="none" stroke="#F47920" stroke-width="2.1" stroke-linejoin="miter"/><polyline points="47.60,105.90 155.80,105.90 155.80,249.00" fill="none" stroke="#FFC20E" stroke-width="2.1" stroke-linejoin="miter"/><rect x="225.00" y="163.00" width="5.4" height="5.4" fill="#00A651"/><g fill="none" stroke="#1c1c1c" stroke-linecap="round" stroke-linejoin="round"><path transform="translate(28.25 19.50) scale(0.315 0.315)" stroke-width="2.857" d="M4 -16L4 -17L5 -19L6 -20L8 -21L12 -21L14 -20L15 -19L16 -17L16 -15L15 -13L13 -10L3 0L17 0"/><path transform="translate(34.55 19.50) scale(0.315 0.315)" stroke-width="2.857" d="M5 -2L4 -1L5 0L6 -1L5 -2"/><path transform="translate(37.70 19.50) scale(0.315 0.315)" stroke-width="2.857" d="M9 -21L6 -20L4 -17L3 -12L3 -9L4 -4L6 -1L9 0L11 0L14 -1L16 -4L17 -9L17 -12L16 -17L14 -20L11 -21L9 -21"/></g><g fill="none" stroke="#1c1c1c" stroke-linecap="round" stroke-linejoin="round"><path transform="translate(28.25 79.38) scale(0.315 0.315)" stroke-width="2.857" d="M6 -17L8 -18L11 -21L11 0"/><path transform="translate(34.55 79.38) scale(0.315 0.315)" stroke-width="2.857" d="M5 -2L4 -1L5 0L6 -1L5 -2"/><path transform="translate(37.70 79.38) scale(0.315 0.315)" stroke-width="2.857" d="M15 -21L5 -21L4 -12L5 -13L8 -14L11 -14L14 -13L16 -11L17 -8L17 -6L16 -3L14 -1L11 0L8 0L5 -1L4 -2L3 -4"/></g><g fill="none" stroke="#1c1c1c" stroke-linecap="round" stroke-linejoin="round"><path transform="translate(28.25 139.25) scale(0.315 0.315)" stroke-width="2.857" d="M6 -17L8 -18L11 -21L11 0"/><path transform="translate(34.55 139.25) scale(0.315 0.315)" stroke-width="2.857" d="M5 -2L4 -1L5 0L6 -1L5 -2"/><path transform="translate(37.70 139.25) scale(0.315 0.315)" stroke-width="2.857" d="M9 -21L6 -20L4 -17L3 -12L3 -9L4 -4L6 -1L9 0L11 0L14 -1L16 -4L17 -9L17 -12L16 -17L14 -20L11 -21L9 -21"/></g><g fill="none" stroke="#1c1c1c" stroke-linecap="round" stroke-linejoin="round"><path transform="translate(28.25 199.12) scale(0.315 0.315)" stroke-width="2.857" d="M9 -21L6 -20L4 -17L3 -12L3 -9L4 -4L6 -1L9 0L11 0L14 -1L16 -4L17 -9L17 -12L16 -17L14 -20L11 -21L9 -21"/><path transform="translate(34.55 199.12) scale(0.315 0.315)" stroke-width="2.857" d="M5 -2L4 -1L5 0L6 -1L5 -2"/><path transform="translate(37.70 199.12) scale(0.315 0.315)" stroke-width="2.857" d="M15 -21L5 -21L4 -12L5 -13L8 -14L11 -14L14 -13L16 -11L17 -8L17 -6L16 -3L14 -1L11 0L8 0L5 -1L4 -2L3 -4"/></g><g fill="none" stroke="#1c1c1c" stroke-linecap="round" stroke-linejoin="round"><path transform="translate(44.75 263.50) scale(0.305 0.305)" stroke-width="2.951" d="M9 -21L6 -20L4 -17L3 -12L3 -9L4 -4L6 -1L9 0L11 0L14 -1L16 -4L17 -9L17 -12L16 -17L14 -20L11 -21L9 -21"/></g><g fill="none" stroke="#1c1c1c" stroke-linecap="round" stroke-linejoin="round"><path transform="translate(69.14 263.50) scale(0.305 0.305)" stroke-width="2.951" d="M6 -17L8 -18L11 -21L11 0"/><path transform="translate(75.24 263.50) scale(0.305 0.305)" stroke-width="2.951" d="M5 -2L19 -16M5 -16L19 -2"/><path transform="translate(82.56 263.50) scale(0.305 0.305)" stroke-width="2.951" d="M6 -17L8 -18L11 -21L11 0"/><path transform="translate(88.66 263.50) scale(0.305 0.305)" stroke-width="2.951" d="M9 -21L6 -20L4 -17L3 -12L3 -9L4 -4L6 -1L9 0L11 0L14 -1L16 -4L17 -9L17 -12L16 -17L14 -20L11 -21L9 -21"/></g><g fill="none" stroke="#1c1c1c" stroke-linecap="round" stroke-linejoin="round"><path transform="translate(94.46 259.60) scale(0.185 0.185)" stroke-width="4.054" d="M16 -18L15 -20L12 -21L10 -21L7 -20L5 -17L4 -12L4 -7L5 -3L7 -1L10 0L11 0L14 -1L16 -3L17 -6L17 -7L16 -10L14 -12L11 -13L10 -13L7 -12L5 -10L4 -7"/></g><g fill="none" stroke="#1c1c1c" stroke-linecap="round" stroke-linejoin="round"><path transform="translate(105.14 263.50) scale(0.305 0.305)" stroke-width="2.951" d="M4 -16L4 -17L5 -19L6 -20L8 -21L12 -21L14 -20L15 -19L16 -17L16 -15L15 -13L13 -10L3 0L17 0"/><path transform="translate(111.24 263.50) scale(0.305 0.305)" stroke-width="2.951" d="M5 -2L19 -16M5 -16L19 -2"/><path transform="translate(118.56 263.50) scale(0.305 0.305)" stroke-width="2.951" d="M6 -17L8 -18L11 -21L11 0"/><path transform="translate(124.66 263.50) scale(0.305 0.305)" stroke-width="2.951" d="M9 -21L6 -20L4 -17L3 -12L3 -9L4 -4L6 -1L9 0L11 0L14 -1L16 -4L17 -9L17 -12L16 -17L14 -20L11 -21L9 -21"/></g><g fill="none" stroke="#1c1c1c" stroke-linecap="round" stroke-linejoin="round"><path transform="translate(130.46 259.60) scale(0.185 0.185)" stroke-width="4.054" d="M16 -18L15 -20L12 -21L10 -21L7 -20L5 -17L4 -12L4 -7L5 -3L7 -1L10 0L11 0L14 -1L16 -3L17 -6L17 -7L16 -10L14 -12L11 -13L10 -13L7 -12L5 -10L4 -7"/></g><g fill="none" stroke="#1c1c1c" stroke-linecap="round" stroke-linejoin="round"><path transform="translate(141.14 263.50) scale(0.305 0.305)" stroke-width="2.951" d="M5 -21L16 -21L10 -13L13 -13L15 -12L16 -11L17 -8L17 -6L16 -3L14 -1L11 0L8 0L5 -1L4 -2L3 -4"/><path transform="translate(147.24 263.50) scale(0.305 0.305)" stroke-width="2.951" d="M5 -2L19 -16M5 -16L19 -2"/><path transform="translate(154.56 263.50) scale(0.305 0.305)" stroke-width="2.951" d="M6 -17L8 -18L11 -21L11 0"/><path transform="translate(160.66 263.50) scale(0.305 0.305)" stroke-width="2.951" d="M9 -21L6 -20L4 -17L3 -12L3 -9L4 -4L6 -1L9 0L11 0L14 -1L16 -4L17 -9L17 -12L16 -17L14 -20L11 -21L9 -21"/></g><g fill="none" stroke="#1c1c1c" stroke-linecap="round" stroke-linejoin="round"><path transform="translate(166.46 259.60) scale(0.185 0.185)" stroke-width="4.054" d="M16 -18L15 -20L12 -21L10 -21L7 -20L5 -17L4 -12L4 -7L5 -3L7 -1L10 0L11 0L14 -1L16 -3L17 -6L17 -7L16 -10L14 -12L11 -13L10 -13L7 -12L5 -10L4 -7"/></g><g fill="none" stroke="#1c1c1c" stroke-linecap="round" stroke-linejoin="round"><path transform="translate(177.14 263.50) scale(0.305 0.305)" stroke-width="2.951" d="M13 -21L3 -7L18 -7M13 -21L13 0"/><path transform="translate(183.24 263.50) scale(0.305 0.305)" stroke-width="2.951" d="M5 -2L19 -16M5 -16L19 -2"/><path transform="translate(190.56 263.50) scale(0.305 0.305)" stroke-width="2.951" d="M6 -17L8 -18L11 -21L11 0"/><path transform="translate(196.66 263.50) scale(0.305 0.305)" stroke-width="2.951" d="M9 -21L6 -20L4 -17L3 -12L3 -9L4 -4L6 -1L9 0L11 0L14 -1L16 -4L17 -9L17 -12L16 -17L14 -20L11 -21L9 -21"/></g><g fill="none" stroke="#1c1c1c" stroke-linecap="round" stroke-linejoin="round"><path transform="translate(202.46 259.60) scale(0.185 0.185)" stroke-width="4.054" d="M16 -18L15 -20L12 -21L10 -21L7 -20L5 -17L4 -12L4 -7L5 -3L7 -1L10 0L11 0L14 -1L16 -3L17 -6L17 -7L16 -10L14 -12L11 -13L10 -13L7 -12L5 -10L4 -7"/></g><g fill="none" stroke="#1c1c1c" stroke-linecap="round" stroke-linejoin="round"><path transform="translate(213.14 263.50) scale(0.305 0.305)" stroke-width="2.951" d="M15 -21L5 -21L4 -12L5 -13L8 -14L11 -14L14 -13L16 -11L17 -8L17 -6L16 -3L14 -1L11 0L8 0L5 -1L4 -2L3 -4"/><path transform="translate(219.24 263.50) scale(0.305 0.305)" stroke-width="2.951" d="M5 -2L19 -16M5 -16L19 -2"/><path transform="translate(226.56 263.50) scale(0.305 0.305)" stroke-width="2.951" d="M6 -17L8 -18L11 -21L11 0"/><path transform="translate(232.66 263.50) scale(0.305 0.305)" stroke-width="2.951" d="M9 -21L6 -20L4 -17L3 -12L3 -9L4 -4L6 -1L9 0L11 0L14 -1L16 -4L17 -9L17 -12L16 -17L14 -20L11 -21L9 -21"/></g><g fill="none" stroke="#1c1c1c" stroke-linecap="round" stroke-linejoin="round"><path transform="translate(238.46 259.60) scale(0.185 0.185)" stroke-width="4.054" d="M16 -18L15 -20L12 -21L10 -21L7 -20L5 -17L4 -12L4 -7L5 -3L7 -1L10 0L11 0L14 -1L16 -3L17 -6L17 -7L16 -10L14 -12L11 -13L10 -13L7 -12L5 -10L4 -7"/></g><g fill="none" stroke="#1c1c1c" stroke-linecap="round" stroke-linejoin="round"><path transform="translate(249.14 263.50) scale(0.305 0.305)" stroke-width="2.951" d="M16 -18L15 -20L12 -21L10 -21L7 -20L5 -17L4 -12L4 -7L5 -3L7 -1L10 0L11 0L14 -1L16 -3L17 -6L17 -7L16 -10L14 -12L11 -13L10 -13L7 -12L5 -10L4 -7"/><path transform="translate(255.24 263.50) scale(0.305 0.305)" stroke-width="2.951" d="M5 -2L19 -16M5 -16L19 -2"/><path transform="translate(262.56 263.50) scale(0.305 0.305)" stroke-width="2.951" d="M6 -17L8 -18L11 -21L11 0"/><path transform="translate(268.66 263.50) scale(0.305 0.305)" stroke-width="2.951" d="M9 -21L6 -20L4 -17L3 -12L3 -9L4 -4L6 -1L9 0L11 0L14 -1L16 -4L17 -9L17 -12L16 -17L14 -20L11 -21L9 -21"/></g><g fill="none" stroke="#1c1c1c" stroke-linecap="round" stroke-linejoin="round"><path transform="translate(274.46 259.60) scale(0.185 0.185)" stroke-width="4.054" d="M16 -18L15 -20L12 -21L10 -21L7 -20L5 -17L4 -12L4 -7L5 -3L7 -1L10 0L11 0L14 -1L16 -3L17 -6L17 -7L16 -10L14 -12L11 -13L10 -13L7 -12L5 -10L4 -7"/></g><g fill="none" stroke="#1c1c1c" stroke-linecap="round" stroke-linejoin="round"><path transform="translate(285.14 263.50) scale(0.305 0.305)" stroke-width="2.951" d="M17 -21L7 0M3 -21L17 -21"/><path transform="translate(291.24 263.50) scale(0.305 0.305)" stroke-width="2.951" d="M5 -2L19 -16M5 -16L19 -2"/><path transform="translate(298.56 263.50) scale(0.305 0.305)" stroke-width="2.951" d="M6 -17L8 -18L11 -21L11 0"/><path transform="translate(304.66 263.50) scale(0.305 0.305)" stroke-width="2.951" d="M9 -21L6 -20L4 -17L3 -12L3 -9L4 -4L6 -1L9 0L11 0L14 -1L16 -4L17 -9L17 -12L16 -17L14 -20L11 -21L9 -21"/></g><g fill="none" stroke="#1c1c1c" stroke-linecap="round" stroke-linejoin="round"><path transform="translate(310.46 259.60) scale(0.185 0.185)" stroke-width="4.054" d="M16 -18L15 -20L12 -21L10 -21L7 -20L5 -17L4 -12L4 -7L5 -3L7 -1L10 0L11 0L14 -1L16 -3L17 -6L17 -7L16 -10L14 -12L11 -13L10 -13L7 -12L5 -10L4 -7"/></g><g fill="none" stroke="#1c1c1c" stroke-linecap="round" stroke-linejoin="round"><path transform="translate(153.40 275.70) scale(0.295 0.295)" stroke-width="3.051" d="M4 -21L4 0M4 -21L12 0M20 -21L12 0M20 -21L20 0"/></g><g fill="none" stroke="#1c1c1c" stroke-linecap="round" stroke-linejoin="round"><path transform="translate(160.70 277.30) scale(0.15 0.15)" stroke-width="5.667" d="M4 -21L4 0M4 -21L13 -21L16 -20L17 -19L18 -17L18 -15L17 -13L16 -12L13 -11M4 -11L13 -11L16 -10L17 -9L18 -7L18 -4L17 -2L16 -1L13 0L4 0"/><path transform="translate(163.85 277.30) scale(0.15 0.15)" stroke-width="5.667" d="M4 -21L4 0M18 -21L18 0M4 -11L18 -11"/></g><g fill="none" stroke="#1c1c1c" stroke-linecap="round" stroke-linejoin="round"><path transform="translate(172.20 275.40) scale(0.3 0.3)" stroke-width="3.000" d="M4 -25L4 7M4 -25L11 -25M4 7L11 7"/></g><g fill="none" stroke="#1c1c1c" stroke-linecap="round" stroke-linejoin="round"><path transform="translate(175.30 275.70) scale(0.295 0.295)" stroke-width="3.051" d="M4 -21L4 0M4 -21L12 0M20 -21L12 0M20 -21L20 0"/></g><circle cx="185.35" cy="276.8" r="2.0" fill="none" stroke="#1c1c1c" stroke-width="0.8"/><circle cx="185.35" cy="276.8" r="0.55" fill="#1c1c1c"/><g fill="none" stroke="#1c1c1c" stroke-linecap="round" stroke-linejoin="round"><path transform="translate(189.60 275.40) scale(0.3 0.3)" stroke-width="3.000" d="M10 -25L10 7M3 -25L10 -25M3 7L10 7"/></g><path d="M17.6 131.4H10.6V127.4H12.5M17.4 130.2V132.5" fill="none" stroke="#222" stroke-width="1.05"/><g fill="none" stroke="#000" stroke-linecap="round" stroke-linejoin="round"><path transform="translate(263.45 21.15) scale(0.316 0.285)" stroke-width="4.992" d="M1 -21L9 0M17 -21L9 0"/><path transform="translate(269.14 21.15) scale(0.316 0.285)" stroke-width="4.992" d="M4 -21L4 -6L5 -3L7 -1L10 0L12 0L15 -1L17 -3L18 -6L18 -21"/><path transform="translate(276.09 21.15) scale(0.316 0.285)" stroke-width="4.992" d="M18 -16L17 -18L15 -20L13 -21L9 -21L7 -20L5 -18L4 -16L3 -13L3 -8L4 -5L5 -3L7 -1L9 0L13 0L15 -1L17 -3L18 -5"/><path transform="translate(282.73 21.15) scale(0.316 0.285)" stroke-width="4.992" d="M4 -21L4 0M4 -21L11 -21L14 -20L16 -18L17 -16L18 -13L18 -8L17 -5L16 -3L14 -1L11 0L4 0"/><path transform="translate(289.36 21.15) scale(0.316 0.285)" stroke-width="4.992" d="M5 -21L16 -21L10 -13L13 -13L15 -12L16 -11L17 -8L17 -6L16 -3L14 -1L11 0L8 0L5 -1L4 -2L3 -4"/></g></svg>
</body></html>
